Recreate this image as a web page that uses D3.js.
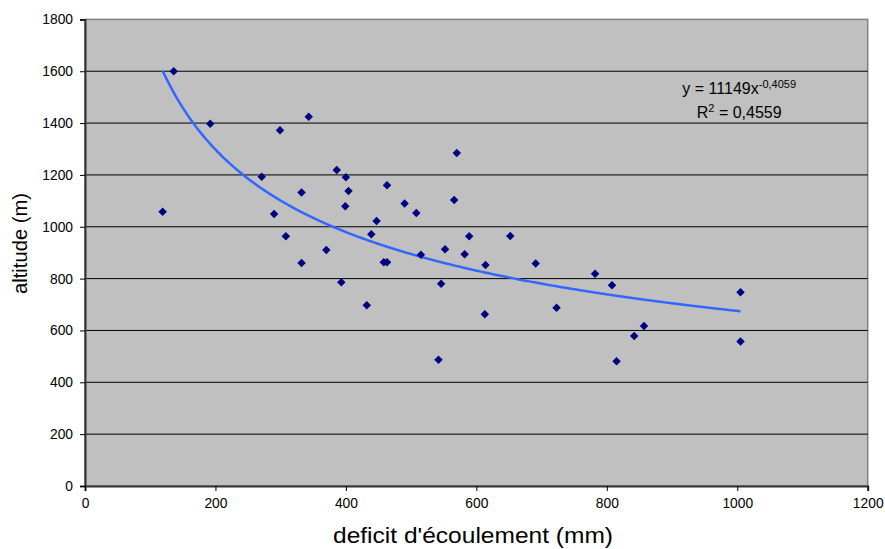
<!DOCTYPE html>
<html>
<head>
<meta charset="utf-8">
<script src="https://cdn.jsdelivr.net/npm/d3@7"></script>
<style>
  body { margin: 0; background: #fff; }
  svg { display: block; font-family: "Liberation Sans", Arial, sans-serif; }
</style>
</head>
<body>
<div id="chart"></div>
<script>
// deficit d'écoulement (mm)
const deficit = [119, 136, 192, 271, 290, 299, 308, 332, 332, 343, 370, 386, 393, 399, 400, 404,
  432, 439, 447, 458, 463, 463, 490, 508, 515, 542, 546, 552, 566, 570, 582, 589, 613, 614,
  652, 691, 723, 782, 808, 815, 842, 857, 1005, 1005];
// altitude (m)
const altitude = [1058, 1600, 1397, 1193, 1049, 1372, 963, 1132, 860, 1424, 910, 1219, 786, 1079, 1191, 1138,
  697, 971, 1022, 863, 863, 1160, 1090, 1053, 892, 487, 780, 913, 1103, 1285, 894, 963, 663, 853,
  964, 858, 688, 819, 774, 481, 579, 617, 747, 557];
const xTicks = [0, 200, 400, 600, 800, 1000, 1200];
const yTicks = [0, 200, 400, 600, 800, 1000, 1200, 1400, 1600, 1800];
// power trend: y = a * x^b
const trendA = 11149, trendB = -0.4059;

const W = 885, H = 549;
const margin = {top: 19.4, right: 17.3, bottom: 63, left: 85};
const width = W - margin.left - margin.right;
const height = H - margin.top - margin.bottom;

const svg = d3.select('#chart').append('svg')
    .attr('width', W)
    .attr('height', H);

const g = svg.append('g')
    .attr('transform', `translate(${margin.left},${margin.top})`);

const x = d3.scaleLinear().domain([0, 1200]).range([0, width]);
const y = d3.scaleLinear().domain([0, 1800]).range([height, 0]);

// plot area
g.append('rect')
    .attr('width', width)
    .attr('height', height)
    .attr('fill', '#c0c0c0')
    .attr('stroke', '#808080')
    .attr('stroke-width', 1.5);

// gridlines
g.append('g')
    .selectAll('line')
    .data(yTicks.filter(d => d > 0 && d < 1800))
    .enter().append('line')
    .attr('x1', 0)
    .attr('x2', width)
    .attr('y1', d => y(d))
    .attr('y2', d => y(d))
    .attr('stroke', '#000')
    .attr('stroke-width', 1);

// axes
const yAxis = g.append('g')
    .call(d3.axisLeft(y).tickValues(yTicks).tickFormat(d3.format('d')).tickSize(5).tickPadding(7));
const xAxis = g.append('g')
    .attr('transform', `translate(0,${height})`)
    .call(d3.axisBottom(x).tickValues(xTicks).tickFormat(d3.format('d')).tickSize(5).tickPadding(7));

[xAxis, yAxis].forEach(a => {
    a.select('.domain').attr('stroke', '#333').attr('stroke-width', 2);
    a.selectAll('.tick line').attr('stroke', '#000');
    a.selectAll('text').attr('font-size', 13.8).attr('fill', '#000')
        .attr('font-family', '"Liberation Sans", Arial, sans-serif');
});

// trend line
const trendX = d3.range(d3.min(deficit), d3.max(deficit) + 1, 2);
g.append('path')
    .datum(trendX)
    .attr('fill', 'none')
    .attr('stroke', '#3366ff')
    .attr('stroke-width', 2.5)
    .attr('d', d3.line()
        .x(d => x(d))
        .y(d => y(trendA * Math.pow(d, trendB))));

// points
const diamond = d3.symbol().type(d3.symbolDiamond2).size(46);
g.append('g')
    .selectAll('path')
    .data(deficit.map((d, i) => [d, altitude[i]]))
    .enter().append('path')
    .attr('transform', d => `translate(${x(d[0])},${y(d[1])})`)
    .attr('d', diamond)
    .attr('fill', '#000080');

// equation label
const eq = g.append('text')
    .attr('x', x(1003))
    .attr('y', y(1511))
    .attr('text-anchor', 'middle')
    .attr('font-size', 16);
eq.append('tspan').text('y = 11149x');
eq.append('tspan').attr('dy', -6).attr('font-size', 11).text('-0,4059');

const r2 = g.append('text')
    .attr('x', x(1003))
    .attr('y', y(1418))
    .attr('text-anchor', 'middle')
    .attr('font-size', 16);
r2.append('tspan').text('R');
r2.append('tspan').attr('dy', -6).attr('font-size', 11).text('2');
r2.append('tspan').attr('dy', 6).text(' = 0,4559');

// axis titles
svg.append('text')
    .attr('x', 473)
    .attr('y', 542.7)
    .attr('text-anchor', 'middle')
    .attr('font-size', 22)
    .attr('textLength', 280)
    .attr('lengthAdjust', 'spacingAndGlyphs')
    .text("deficit d'écoulement (mm)");

svg.append('text')
    .attr('transform', 'translate(27.3,243.5) rotate(-90)')
    .attr('text-anchor', 'middle')
    .attr('font-size', 20.2)
    .text('altitude (m)');
</script>
</body>
</html>
